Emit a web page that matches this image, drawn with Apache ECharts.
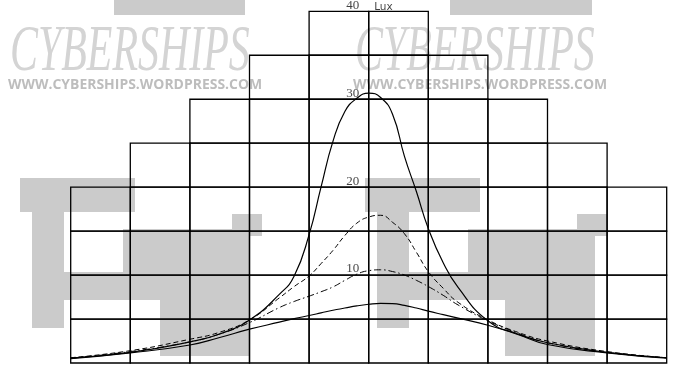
<!DOCTYPE html>
<html>
<head>
<meta charset="utf-8">
<script src="https://cdn.jsdelivr.net/npm/echarts@6/dist/echarts.min.js"></script>
<style>
  html, body { margin: 0; padding: 0; background: #fff; }
  #chart { width: 674px; height: 367px; }
</style>
</head>
<body>
<div id="chart"></div>
<script>
// stepped grid: column edges (in column widths from the centre) and the lux height of each column
const colEdges = [-5, -4, -3, -2, -1, 0, 1, 2, 3, 4, 5]
const colTops = [20, 25, 30, 35, 40, 40, 35, 30, 25, 20]
const rowStep = 5

// lux labels on the centre line
const tickVals = [10, 20, 30, 40]
const unitLabel = 'Lux'

// horizontal distance, read at these points
const xs = [-5, -4, -3, -2.5, -2, -1.5, -1.25, -1, -0.8, -0.6, -0.4, -0.2, 0, 0.2, 0.4, 0.6, 0.8, 1, 1.25, 1.5, 2, 2.5, 3, 4, 5]
const tallLux = [0.55, 1.2, 2.4, 3.3, 4.9, 7.8, 9.9, 14.6, 20, 25.2, 28.6, 30.1, 30.7, 30.2, 28.3, 23.5, 19.5, 15.3, 11.4, 8.6, 4.8, 3.3, 2.3, 1.2, 0.6]
const dashedLux = [0.6, 1.4, 2.7, 3.5, 4.9, 7.4, 8.7, 9.9, 11.3, 12.8, 14.5, 15.9, 16.6, 16.8, 16.0, 14.7, 12.6, 10.4, 8.5, 6.9, 4.9, 3.5, 2.5, 1.3, 0.6]
const dashDotLux = [0.55, 1.3, 2.4, 3.3, 4.6, 6.3, 7.0, 7.6, 8.1, 8.65, 9.4, 10.1, 10.5, 10.6, 10.4, 10.0, 9.4, 8.7, 7.7, 6.6, 4.8, 3.4, 2.3, 1.2, 0.6]
const lowLux = [0.5, 1.15, 2.05, 2.9, 3.85, 4.65, 5.05, 5.4, 5.7, 6.0, 6.25, 6.5, 6.68, 6.78, 6.75, 6.55, 6.25, 5.9, 5.5, 5.1, 4.3, 3.25, 2.1, 1.15, 0.55]

// cells of the stepped grid
let cells = []
for (let i = 0; i < colTops.length; i++) {
  for (let v = 0; v < colTops[i]; v += rowStep) {
    cells.push([colEdges[i], colEdges[i + 1], v, v + rowStep])
  }
}

function pairs(vals) {
  return xs.map((x, i) => [x, vals[i]])
}

// watermark (background picture in the source)
const markGrey = '#cbcbcb'
const logoRects = [
  [32, 178, 32, 150],
  [20, 178, 115, 34],
  [123, 229, 127, 45],
  [64, 272, 100, 28],
  [160, 272, 90, 84],
  [232, 214, 30, 22]
]
let graphic = []
;[0, 345].forEach((dx) => {
  logoRects.forEach((r) => {
    graphic.push({ type: 'rect', x: r[0] + dx, y: r[1], shape: { width: r[2], height: r[3] }, style: { fill: markGrey }, silent: true })
  })
})
graphic.push({ type: 'rect', x: 114, y: 0, shape: { width: 131, height: 15 }, style: { fill: markGrey }, silent: true })
graphic.push({ type: 'rect', x: 450, y: 0, shape: { width: 142, height: 15 }, style: { fill: markGrey }, silent: true })
;[10, 355].forEach((x0) => {
  graphic.push({
    type: 'text', x: x0, y: 20, scaleX: 0.635, silent: true,
    style: { text: 'CYBERSHIPS', font: 'italic 66px "Liberation Serif"', fill: '#d4d4d4' }
  })
  graphic.push({
    type: 'text', x: x0 - 2, y: 77, scaleX: 0.93, silent: true,
    style: { text: 'WWW.CYBERSHIPS.WORDPRESS.COM', font: 'bold 15px "Open Sans"', fill: '#bdbdbd' }
  })
})

const chart = echarts.init(document.getElementById('chart'))

const option = {
  animation: false,
  backgroundColor: '#fff',
  graphic: graphic,
  grid: { left: 70.7, top: 11.3, width: 596, height: 351.7 },
  xAxis: {
    type: 'value',
    min: -5,
    max: 5,
    axisLine: { show: false },
    axisTick: { show: false },
    axisLabel: { show: false },
    splitLine: { show: false }
  },
  yAxis: {
    type: 'value',
    min: 0,
    max: 40,
    axisLine: { show: false },
    axisTick: { show: false },
    axisLabel: { show: false },
    splitLine: { show: false }
  },
  series: [
    {
      name: 'grid',
      type: 'custom',
      z: 3,
      silent: true,
      data: cells,
      encode: { x: [0, 1], y: [2, 3] },
      renderItem: (params, api) => {
        let p0 = api.coord([api.value(0), api.value(3)])
        let p1 = api.coord([api.value(1), api.value(2)])
        return {
          type: 'rect',
          shape: { x: p0[0], y: p0[1], width: p1[0] - p0[0], height: p1[1] - p0[1] },
          style: { fill: 'rgba(0,0,0,0)', stroke: '#000', lineWidth: 1.3 }
        }
      }
    },
    {
      name: 'tall',
      type: 'line',
      z: 4,
      data: pairs(tallLux),
      showSymbol: false,
      smooth: 0.5,
      lineStyle: { color: '#000', width: 1.2 }
    },
    {
      name: 'dashed',
      type: 'line',
      z: 4,
      data: pairs(dashedLux),
      showSymbol: false,
      smooth: 0.5,
      lineStyle: { color: '#000', width: 1, type: [5, 3] }
    },
    {
      name: 'dashdot',
      type: 'line',
      z: 4,
      data: pairs(dashDotLux),
      showSymbol: false,
      smooth: 0.5,
      lineStyle: { color: '#000', width: 1, type: [7, 3, 1.5, 3] }
    },
    {
      name: 'low',
      type: 'line',
      z: 4,
      data: pairs(lowLux),
      showSymbol: false,
      smooth: 0.5,
      lineStyle: { color: '#000', width: 1.1 }
    },
    {
      name: 'ticks',
      type: 'scatter',
      z: 5,
      silent: true,
      symbolSize: 1,
      itemStyle: { color: 'rgba(0,0,0,0)' },
      data: tickVals.map((v) => [0, v]),
      label: {
        show: true,
        position: 'left',
        distance: 9,
        offset: [0, -6],
        formatter: (p) => p.value[1],
        fontFamily: 'Liberation Serif',
        fontSize: 13,
        color: '#111'
      }
    },
    {
      name: 'unit',
      type: 'scatter',
      z: 5,
      silent: true,
      symbolSize: 1,
      itemStyle: { color: 'rgba(0,0,0,0)' },
      data: [[0, 40]],
      label: {
        show: true,
        position: 'right',
        distance: 5,
        offset: [0, -4],
        formatter: unitLabel,
        fontFamily: 'DejaVu Sans',
        fontSize: 10.5,
        color: '#111'
      }
    }
  ]
}

chart.setOption(option)
</script>
</body>
</html>
